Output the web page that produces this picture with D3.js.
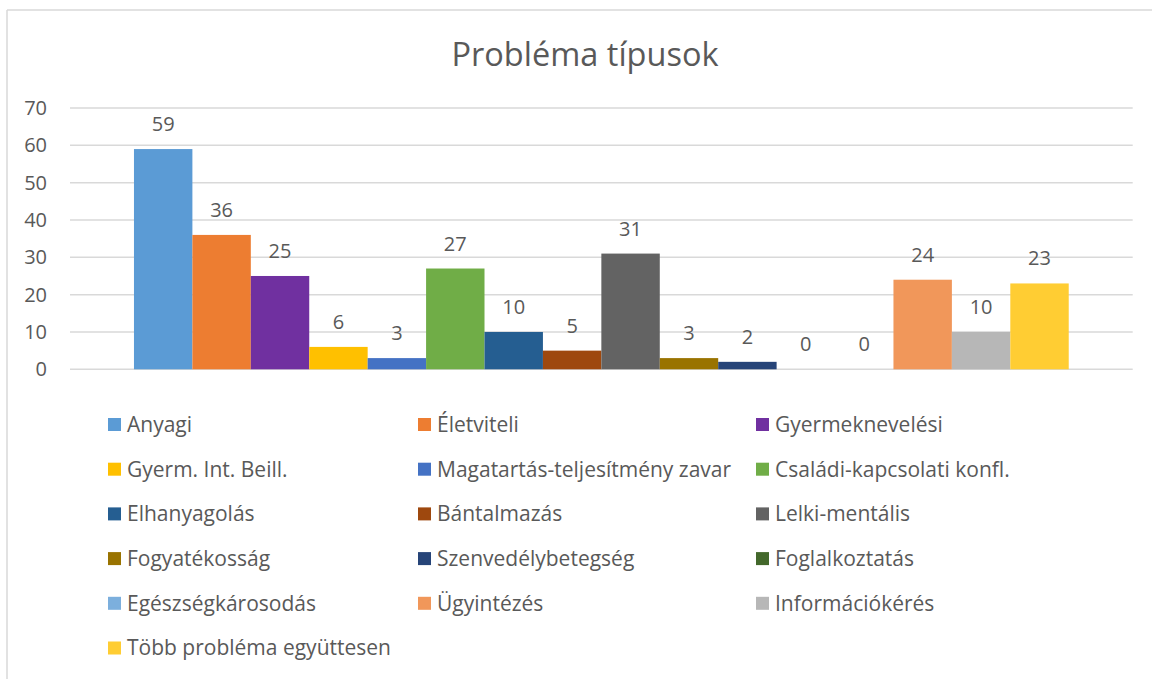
<!DOCTYPE html>
<html>
<head>
<meta charset="utf-8">
<script src="https://cdn.jsdelivr.net/npm/d3@7"></script>
<style>
  html, body { margin: 0; padding: 0; background: #ffffff; }
  svg { display: block; }
  text { font-family: "Open Sans", "Noto Sans", sans-serif; fill: #595959; }
</style>
</head>
<body>
<svg id="chart" width="1152" height="679"></svg>
<script>
const title = "Probléma típusok";
const categories = [
  "Anyagi", "Életviteli", "Gyermeknevelési", "Gyerm. Int. Beill.",
  "Magatartás-teljesítmény zavar", "Családi-kapcsolati konfl.", "Elhanyagolás", "Bántalmazás",
  "Lelki-mentális", "Fogyatékosság", "Szenvedélybetegség", "Foglalkoztatás",
  "Egészségkárosodás", "Ügyintézés", "Információkérés", "Több probléma együttesen"
];
const values = [59, 36, 25, 6, 3, 27, 10, 5, 31, 3, 2, 0, 0, 24, 10, 23];
const colors = [
  "#5B9BD5", "#ED7D31", "#7030A0", "#FFC000",
  "#4472C4", "#70AD47", "#255E91", "#9E480E",
  "#636363", "#997300", "#264478", "#43682B",
  "#7CAFDD", "#F1975A", "#B7B7B7", "#FFCD33"
];
const yTicks = [0, 10, 20, 30, 40, 50, 60, 70];

const svg = d3.select("#chart");
const W = 1152, H = 679;

// chart border (top and left visible)
svg.append("line").attr("x1", 7).attr("x2", W).attr("y1", 10).attr("y2", 10)
  .attr("stroke", "#d9d9d9").attr("stroke-width", 1.5);
svg.append("line").attr("x1", 7).attr("x2", 7).attr("y1", 10).attr("y2", H)
  .attr("stroke", "#d9d9d9").attr("stroke-width", 1.5);

// title
svg.append("text").attr("x", 585).attr("y", 66)
  .attr("text-anchor", "middle").style("font-size", "32.5px").text(title);

const plot = { left: 70, right: 1132.7, top: 108, bottom: 369.3 };

const y = d3.scaleLinear().domain([0, 70]).range([plot.bottom, plot.top]);
const x = d3.scaleBand().domain(categories).range([plot.left, plot.right])
  .paddingInner(0).paddingOuter(1.095);

// gridlines
svg.append("g").selectAll("line").data(yTicks).join("line")
  .attr("x1", plot.left).attr("x2", plot.right)
  .attr("y1", d => y(d)).attr("y2", d => y(d))
  .attr("stroke", "#d9d9d9").attr("stroke-width", 1.5);

// y axis labels
const yAxis = d3.axisLeft(y).tickValues(yTicks).tickSize(0).tickPadding(0);
const ya = svg.append("g").attr("transform", "translate(47,0)").call(yAxis);
ya.select(".domain").remove();
ya.selectAll("text").style("font-size", "20px")
  .style("font-family", '"Open Sans", "Noto Sans", sans-serif').attr("fill", "#595959");

// bars
svg.append("g").selectAll("rect").data(values).join("rect")
  .attr("x", (d, i) => x(categories[i]))
  .attr("y", d => y(d))
  .attr("width", x.bandwidth())
  .attr("height", d => y(0) - y(d))
  .attr("fill", (d, i) => colors[i]);

// data labels
svg.append("g").selectAll("text").data(values).join("text")
  .attr("x", (d, i) => x(categories[i]) + x.bandwidth() / 2)
  .attr("y", d => y(d) - 18)
  .attr("text-anchor", "middle")
  .style("font-size", "20px")
  .text(d => d);

// legend
const colX = [108, 418, 756];
const rowY0 = 424.5, rowStep = 44.7, mk = 13;
const leg = svg.append("g").selectAll("g").data(categories).join("g")
  .attr("transform", (d, i) => `translate(${colX[i % 3]},${rowY0 + Math.floor(i / 3) * rowStep})`);
leg.append("rect").attr("x", 0).attr("y", -mk / 2).attr("width", mk).attr("height", mk)
  .attr("fill", (d, i) => colors[i]);
leg.append("text").attr("x", 19).attr("y", 0).attr("dy", "0.35em")
  .style("font-size", "21px").text(d => d);
</script>
</body>
</html>
